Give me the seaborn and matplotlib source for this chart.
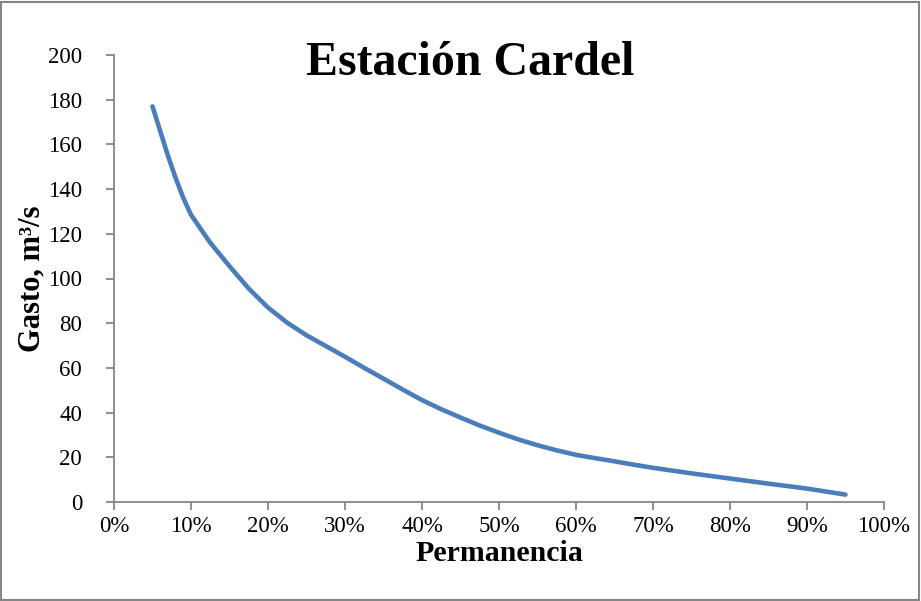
import matplotlib
matplotlib.use("Agg")
import matplotlib.pyplot as plt
import seaborn as sns
import pandas as pd
from matplotlib.ticker import PercentFormatter
from matplotlib.patches import Rectangle

permanencia = [0.05, 0.06, 0.07, 0.08, 0.09, 0.10, 0.125, 0.15, 0.175, 0.20,
               0.225, 0.25, 0.275, 0.30, 0.325, 0.35, 0.375, 0.40, 0.425, 0.45,
               0.475, 0.50, 0.525, 0.55, 0.575, 0.60, 0.625, 0.65, 0.675, 0.70,
               0.75, 0.80, 0.85, 0.90, 0.95]
gasto = [177, 166, 155, 145, 136, 128.5, 116, 105.5, 95.5, 87,
         80.2, 74.6, 69.8, 65.0, 60.0, 55.2, 50.3, 45.6, 41.5, 37.8,
         34.2, 31.0, 28.0, 25.4, 23.1, 21.1, 19.6, 18.2, 16.7, 15.3,
         12.8, 10.5, 8.2, 6.0, 3.3]
y_ticks = [0, 20, 40, 60, 80, 100, 120, 140, 160, 180, 200]
x_ticks = [0, 0.1, 0.2, 0.3, 0.4, 0.5, 0.6, 0.7, 0.8, 0.9, 1.0]

df = pd.DataFrame({"Permanencia": permanencia, "Gasto": gasto})

sns.set_theme(style="white")
plt.rcParams['font.family'] = ['Liberation Serif', 'DejaVu Serif']
plt.rcParams['text.color'] = 'black'
plt.rcParams['axes.labelcolor'] = 'black'

fig = plt.figure(figsize=(9.21, 6.01), dpi=100)
ax = fig.add_axes([114/921, 1-502/601, (884-114)/921, (502-55)/601])
sns.lineplot(data=df, x="Permanencia", y="Gasto", ax=ax, color="#4A7EBB",
             linewidth=3.3, solid_capstyle="round", solid_joinstyle="round")

ax.set_xlim(0, 1.0)
ax.set_ylim(0, 200)
ax.set_xticks(x_ticks)
ax.set_yticks(y_ticks)
ax.xaxis.set_major_formatter(PercentFormatter(1.0, decimals=0))
gray = "#868686"
for s in ["top", "right"]:
    ax.spines[s].set_visible(False)
for s in ["left", "bottom"]:
    ax.spines[s].set_color(gray)
    ax.spines[s].set_linewidth(1.3)
ax.tick_params(axis="both", direction="out", length=6, width=1.3, color=gray,
               labelsize=16.5, labelcolor="black", left=True, bottom=True)
ax.tick_params(axis="y", pad=17)
ax.tick_params(axis="x", pad=4)
ax.set_xlabel("Permanencia", fontsize=21.5, fontweight="bold", labelpad=2)
ax.set_ylabel("Gasto, m³/s", fontsize=22, fontweight="bold", labelpad=1)
ax.text(0.462, 0.955, "Estación Cardel", transform=ax.transAxes, ha="center",
        va="baseline", fontsize=34.5, fontweight="bold")
ax.grid(False)

fig.patches.append(Rectangle((1/921, 1/601), 918/921, 598/601, transform=fig.transFigure,
                             fill=False, edgecolor=gray, linewidth=1.5))
fig.savefig("out.png", dpi=100)
